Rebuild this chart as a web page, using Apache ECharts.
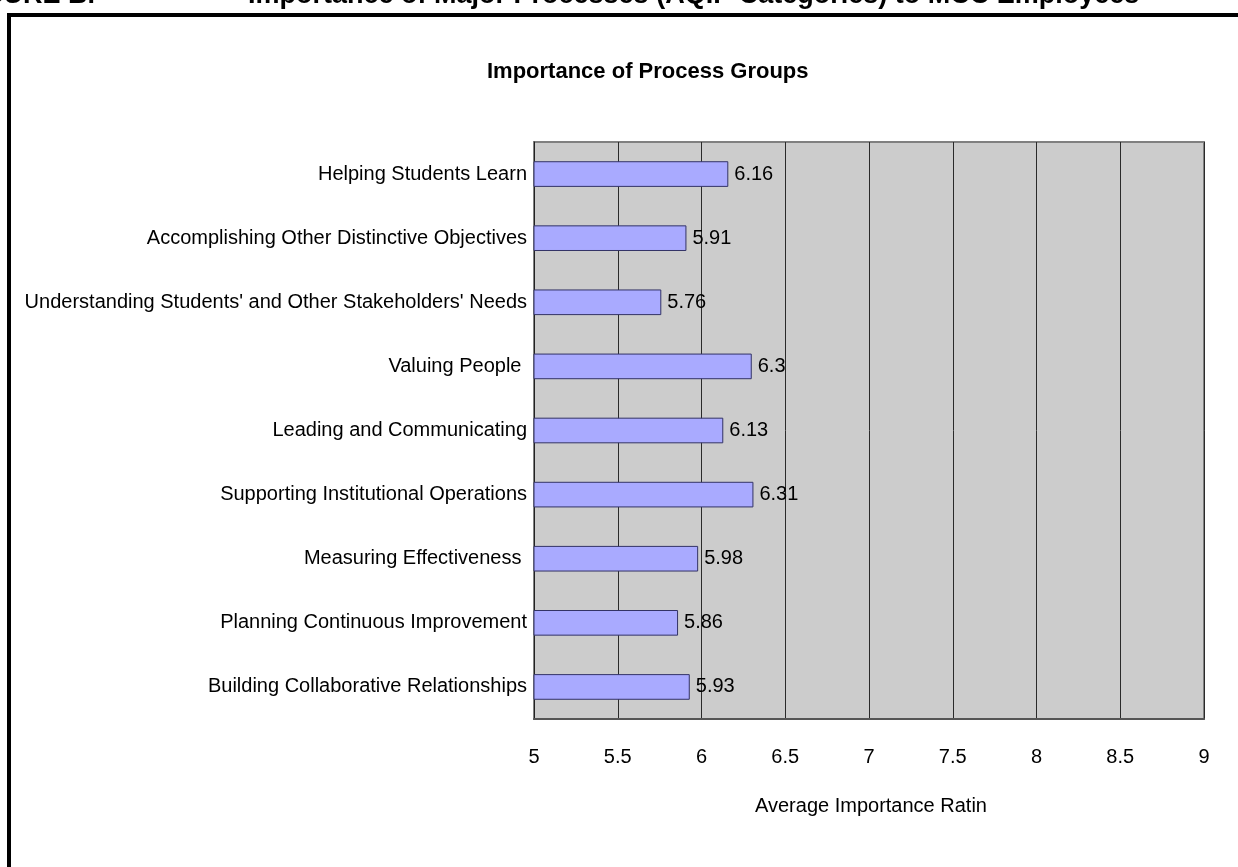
<!DOCTYPE html>
<html>
<head>
<meta charset="utf-8"/>
<title>Importance of Process Groups</title>
<script src="https://cdn.jsdelivr.net/npm/echarts@6/dist/echarts.min.js"></script>
<style>
	* { padding: 0; margin: 0; }
	body { background: #fff; }
	#chart { width: 1238px; height: 867px; }
</style>
</head>
<body>
<div id="chart"></div>
<script>
	// categories, top to bottom as in the figure
	var processGroups = [
		'Helping Students Learn',
		'Accomplishing Other Distinctive Objectives',
		"Understanding Students' and Other Stakeholders' Needs",
		'Valuing People ',
		'Leading and Communicating',
		'Supporting Institutional Operations',
		'Measuring Effectiveness ',
		'Planning Continuous Improvement',
		'Building Collaborative Relationships'
	];
	var importanceRatings = [6.16, 5.91, 5.76, 6.3, 6.13, 6.31, 5.98, 5.86, 5.93];
	var axisMin = 5, axisMax = 9, axisStep = 0.5;

	var font = '"Liberation Sans", Arial, sans-serif';
	var myChart = echarts.init(document.getElementById('chart'), null, { renderer: 'canvas' });
	var option = {
		backgroundColor: '#ffffff',
		animation: false,
		textStyle: { fontFamily: font },
		title: {
			text: 'Importance of Process Groups',
			left: 482,
			top: 56,
			textStyle: { fontFamily: font, fontSize: 22, fontWeight: 'bold', color: '#000' }
		},
		graphic: [
			// page heading, cut off at the top edge of the picture
			{
				type: 'text',
				x: 95,
				y: -4,
				style: {
					text: 'FIGURE B.',
					font: 'bold 27px ' + font,
					fill: '#000',
					align: 'right',
					verticalAlign: 'middle'
				}
			},
			{
				type: 'text',
				x: 248,
				y: -4,
				style: {
					text: 'Importance of Major Processes (AQIP Categories) to MCC Employees',
					font: 'bold 27px ' + font,
					fill: '#000',
					align: 'left',
					verticalAlign: 'middle'
				}
			},
			{
				type: 'rect',
				shape: { x: 9, y: 15, width: 1300, height: 900 },
				style: { fill: 'none', stroke: '#000', lineWidth: 4 },
				silent: true
			},
			{
				type: 'text',
				left: 755,
				top: 796,
				style: {
					text: 'Average Importance Rating',
					font: '20px ' + font,
					fill: '#000',
					width: 236,
					overflow: 'truncate',
					ellipsis: ''
				}
			}
		],
		grid: {
			left: 534,
			right: 34,
			top: 142,
			bottom: 148,
			show: true,
			backgroundColor: '#cccccc',
			borderColor: '#808080',
			borderWidth: 2
		},
		xAxis: {
			type: 'value',
			min: axisMin,
			max: axisMax,
			interval: axisStep,
			axisLine: { show: true, onZero: false, lineStyle: { color: '#555', width: 2 } },
			axisTick: { show: false },
			axisLabel: { color: '#000', fontSize: 20, margin: 28, fontFamily: font },
			splitLine: { show: true, lineStyle: { color: '#2a2a2a', width: 1 } }
		},
		yAxis: {
			type: 'category',
			inverse: true,
			data: processGroups,
			axisLine: { show: true, lineStyle: { color: '#222', width: 1 } },
			axisTick: { show: false },
			axisLabel: { color: '#000', fontSize: 20, margin: 7, fontFamily: font },
			splitLine: { show: false }
		},
		series: [{
			type: 'bar',
			data: importanceRatings,
			barWidth: '40%',
			itemStyle: { color: '#a9aaff', borderColor: '#333366', borderWidth: 1 },
			label: {
				show: true,
				position: 'right',
				distance: 6,
				color: '#000',
				fontSize: 20,
				fontFamily: font
			}
		}]
	};
	myChart.setOption(option, true);
</script>
</body>
</html>
